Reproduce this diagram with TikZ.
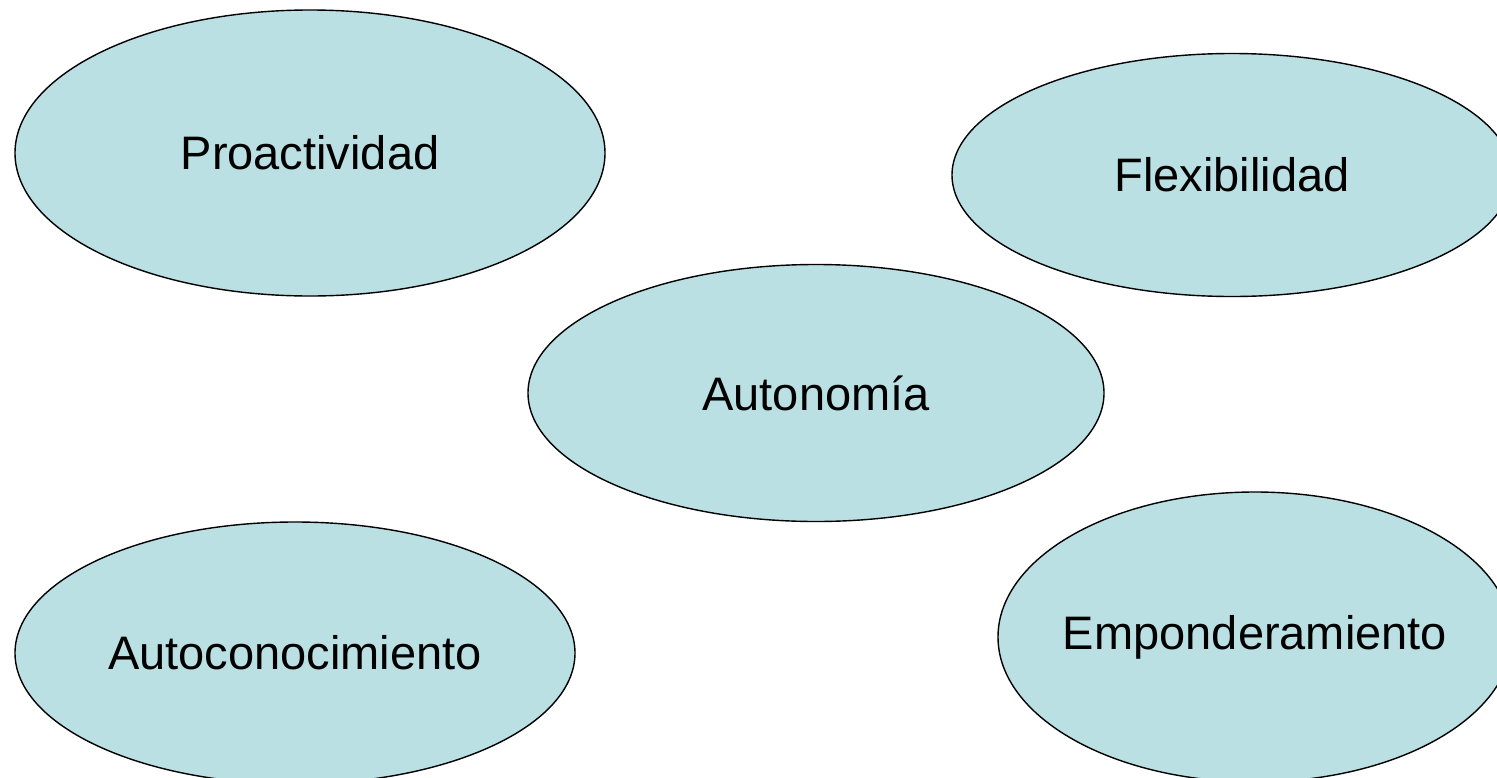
\documentclass[tikz,border=0pt]{standalone}
\usepackage{fontspec}
\setmainfont{Liberation Sans}
\usetikzlibrary{shapes.geometric}
\definecolor{ellfill}{RGB}{186,224,227}
\tikzset{
  bubble/.style={ellipse, draw=black, line width=1.4pt, fill=ellfill, inner sep=0pt, outer sep=0pt},
  bubbletext/.style={font=\fontsize{47}{56}\selectfont, inner sep=0pt}
}
\begin{document}
\begin{tikzpicture}[x=1pt,y=-1pt]
\useasboundingbox (0,0) rectangle (1497,777);
\clip (0,0) rectangle (1497,777);
\node[bubble, minimum width=590pt, minimum height=286pt] (pro) at (310,153) {};
\node[bubble, minimum width=560pt, minimum height=243pt] (flex) at (1232,175) {};
\node[bubble, minimum width=576pt, minimum height=257pt] (auto) at (816,393) {};
\node[bubble, minimum width=560pt, minimum height=262pt] (conoc) at (295,653) {};
\node[bubble, minimum width=514pt, minimum height=290pt] (empo) at (1255,637) {};
\node[bubbletext] (tpro) at (pro.center) {Proactividad};
\node[bubbletext] (tflex) at (flex.center) {Flexibilidad};
\node[bubbletext] (tauto) at (auto.center) {Autonomía};
\node[bubbletext] (tconoc) at (conoc.center) {Autoconocimiento};
\node[bubbletext] (tempo) at (empo.center) {Emponderamiento};
\end{tikzpicture}
\end{document}
